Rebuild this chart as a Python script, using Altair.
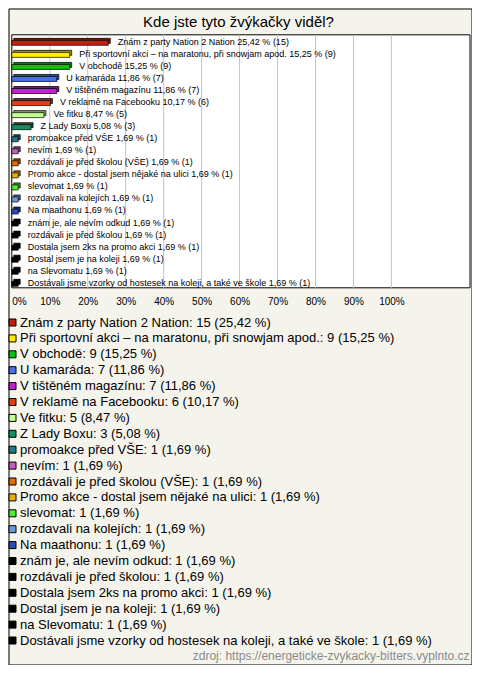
import altair as alt
import pandas as pd

title_text = "Kde jste tyto žvýkačky viděl?"
source_text = "zdroj: https://energeticke-zvykacky-bitters.vyplnto.cz"

names = [
    "Znám z party Nation 2 Nation",
    "Při sportovní akci – na maratonu, při snowjam apod.",
    "V obchodě",
    "U kamaráda",
    "V tištěném magazínu",
    "V reklamě na Facebooku",
    "Ve fitku",
    "Z Lady Boxu",
    "promoakce před VŠE",
    "nevím",
    "rozdávali je před školou (VŠE)",
    "Promo akce - dostal jsem nějaké na ulici",
    "slevomat",
    "rozdavali na kolejích",
    "Na maathonu",
    "znám je, ale nevím odkud",
    "rozdávali je před školou",
    "Dostala jsem 2ks na promo akci",
    "Dostal jsem je na koleji",
    "na Slevomatu",
    "Dostávali jsme vzorky od hostesek na koleji, a také ve škole",
]
counts = [15, 9, 9, 7, 7, 6, 5, 3, 1, 1, 1, 1, 1, 1, 1, 1, 1, 1, 1, 1, 1]
percent_values = [25.42, 15.25, 15.25, 11.86, 11.86, 10.17, 8.47, 5.08,
                  1.69, 1.69, 1.69, 1.69, 1.69, 1.69, 1.69, 1.69, 1.69,
                  1.69, 1.69, 1.69, 1.69]
percent_text = ["25,42", "15,25", "15,25", "11,86", "11,86", "10,17", "8,47", "5,08",
                "1,69", "1,69", "1,69", "1,69", "1,69", "1,69", "1,69", "1,69", "1,69",
                "1,69", "1,69", "1,69", "1,69"]
colors = ["#c02010", "#ffee00", "#10c010", "#4a70e8", "#c020d0", "#e04010",
          "#c0ff90", "#109060", "#207888", "#c060c0", "#e07000", "#e8b000",
          "#50ee30", "#6c9ce0", "#2a50b8", "#000000", "#000000", "#000000",
          "#000000", "#000000", "#000000"]
tick_values = [0, 10, 20, 30, 40, 50, 60, 70, 80, 90, 100]
grid_values = [10, 20, 30, 40, 50, 60, 70, 80, 90, 100]

W, H = 463, 656
BG = "#f5f4ec"
X_MAX = 120.7
PLOT_TOP, PLOT_BOTTOM = 26.3, 279.3
FONT = "Liberation Sans"

legend_labels = [f"{n}: {c} ({p} %)" for n, c, p in zip(names, counts, percent_text)]
bar_labels = [f"{n} {p} % ({c})" for n, c, p in zip(names, counts, percent_text)]

df = pd.DataFrame({
    "name": names,
    "pct": percent_values,
    "legend": legend_labels,
    "label": bar_labels,
})
df_bg = pd.DataFrame({"x0": [0], "x1": [X_MAX], "y0": [0], "y1": [1]})
df_grid = pd.DataFrame({"t": grid_values, "y0": [0] * len(grid_values), "y1": [1] * len(grid_values)})

xscale = alt.Scale(domain=[0, X_MAX], range=[3.3, 461.5], nice=False, zero=True)
xaxis = alt.Axis(values=tick_values, labelExpr="datum.value + '%'", orient="bottom",
                 offset=-(H - PLOT_BOTTOM), domain=False, ticks=False, tickSize=0,
                 grid=False, labelPadding=9, labelFontSize=10, labelFlush=True,
                 title=None, labelColor="black", labelFont=FONT)
yq = alt.Scale(domain=[0, 1], range=[PLOT_TOP, PLOT_BOTTOM], nice=False, zero=False)
yband = alt.Scale(domain=names, range=[PLOT_TOP, PLOT_BOTTOM], paddingInner=0, paddingOuter=0)

color = alt.Color("legend:N", scale=alt.Scale(domain=legend_labels, range=colors),
                  legend=alt.Legend(orient="none", legendX=-2.5, legendY=307.5, direction="vertical",
                                    title=None, symbolType="square", symbolSize=49,
                                    symbolStrokeColor="black", symbolStrokeWidth=1,
                                    symbolOpacity=1, labelFontSize=13, labelFont=FONT,
                                    labelColor="black", labelLimit=470, rowPadding=1.9,
                                    labelOffset=1, padding=0, offset=0))

bg = alt.Chart(df_bg).mark_rect(fill="white", stroke="black", strokeWidth=1).encode(
    x=alt.X("x0:Q", scale=xscale, axis=xaxis), x2="x1:Q",
    y=alt.Y("y0:Q", scale=yq, axis=None), y2="y1:Q")

grid = alt.Chart(df_grid).mark_rule(color="#c4c4c4", strokeWidth=1).encode(
    x=alt.X("t:Q", scale=xscale, axis=xaxis),
    y=alt.Y("y0:Q", scale=yq, axis=None), y2="y1:Q")

back = alt.Chart(df).mark_bar(size=5, xOffset=2, yOffset=0, stroke="black", strokeWidth=0.7).encode(
    x=alt.X("pct:Q", scale=xscale, axis=xaxis),
    y=alt.Y("name:N", scale=yband, axis=None, sort=names),
    color=color)

shade = alt.Chart(df).mark_bar(size=5, xOffset=2, yOffset=0, opacity=0.35).encode(
    x=alt.X("pct:Q", scale=xscale, axis=xaxis),
    y=alt.Y("name:N", scale=yband, axis=None, sort=names),
    color=alt.value("black"))

front = alt.Chart(df).mark_bar(size=5, yOffset=2, stroke="black", strokeWidth=0.7).encode(
    x=alt.X("pct:Q", scale=xscale, axis=xaxis),
    y=alt.Y("name:N", scale=yband, axis=None, sort=names),
    color=color)

labels = alt.Chart(df).mark_text(align="left", baseline="middle", dx=9.5, dy=1,
                                 fontSize=9, font=FONT, color="black").encode(
    x=alt.X("pct:Q", scale=xscale, axis=xaxis),
    y=alt.Y("name:N", scale=yband, axis=None, sort=names),
    text="label:N")

title = alt.Chart(pd.DataFrame({"t": [title_text]})).mark_text(
    align="center", baseline="alphabetic", fontSize=15, font=FONT, color="black").encode(
    x=alt.value(230), y=alt.value(18.7), text="t:N")

source = alt.Chart(pd.DataFrame({"t": [source_text]})).mark_text(
    align="right", baseline="alphabetic", fontSize=12, font=FONT, color="#8a8a8a").encode(
    x=alt.value(461), y=alt.value(651), text="t:N")

chart = alt.layer(bg, grid, back, shade, front, labels, title, source).resolve_scale(
    y="independent"
).properties(
    width=W, height=H, padding=0.5, autosize=alt.AutoSizeParams(type="none")
).configure(
    background=BG, font=FONT
).configure_view(
    fill=BG, stroke="black", strokeWidth=1
)

chart.save("out.html", embed_options={"renderer": "svg", "actions": False})
